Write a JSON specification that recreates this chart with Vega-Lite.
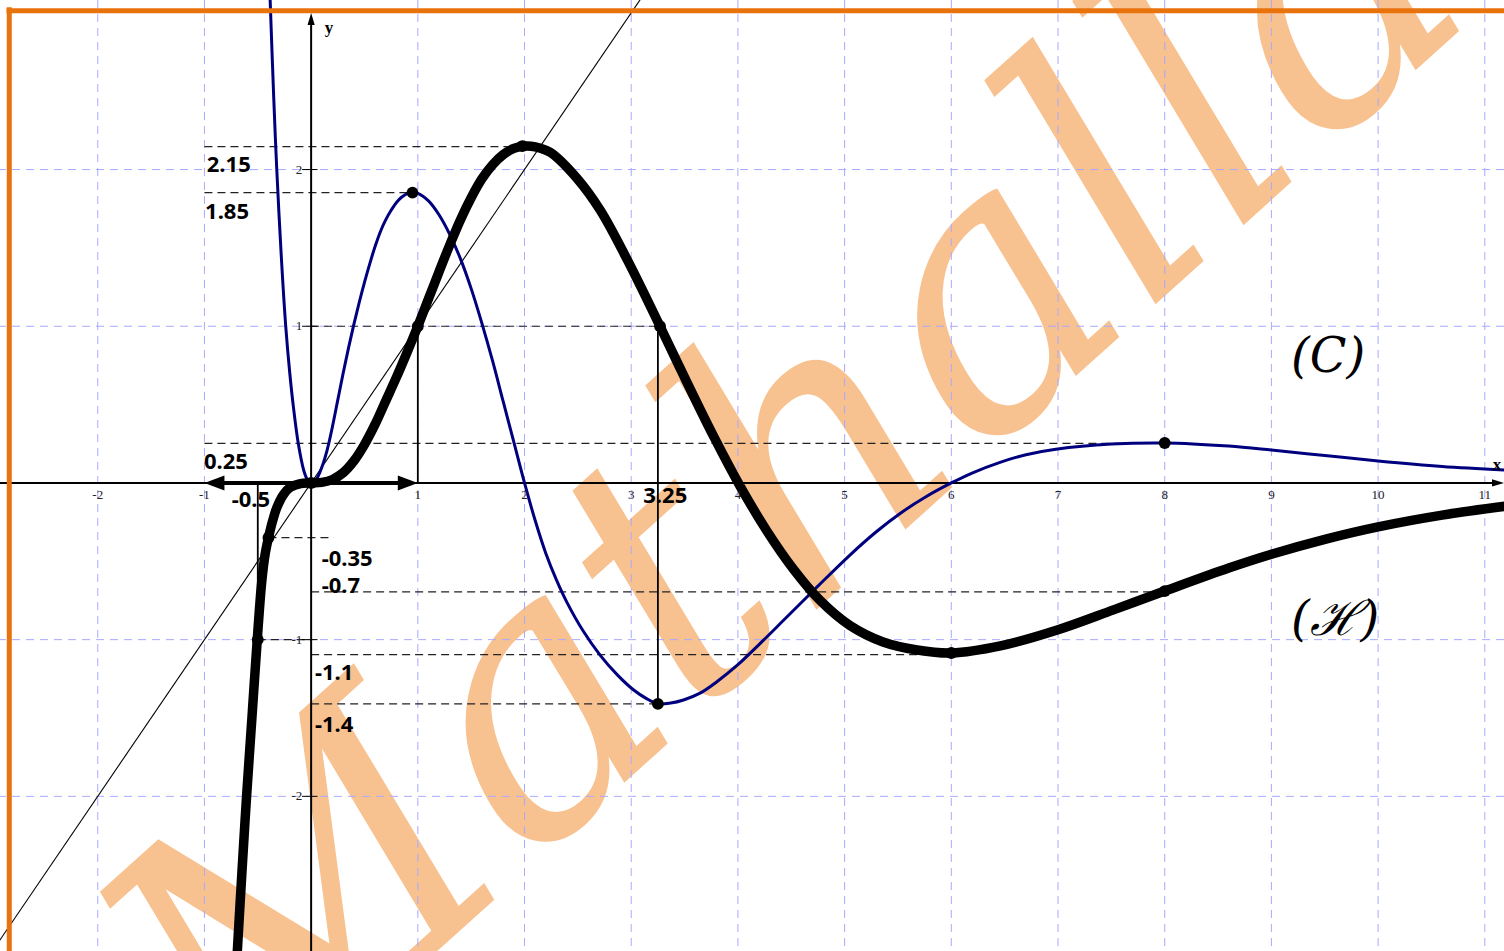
{
  "$schema": "https://vega.github.io/schema/vega-lite/v6.json",
  "width": 1504,
  "height": 951,
  "autosize": {"type": "none"},
  "padding": 0,
  "background": "white",
  "config": {"view": {"stroke": null}},
  "datasets": {
    "wm": [{"x": 4.5, "y": 0.0, "t": "Mathalla"}],
    "gridx": [{"x": -2}, {"x": -1}, {"x": 1}, {"x": 2}, {"x": 3}, {"x": 4}, {"x": 5}, {"x": 6}, {"x": 7}, {"x": 8}, {"x": 9}, {"x": 10}, {"x": 11}],
    "gridy": [{"y": -2}, {"y": -1}, {"y": 1}, {"y": 2}],
    "diag": [{"x": -2.92, "y": -2.92}, {"x": 3.1, "y": 3.1}],
    "dashed": [
      {"x": -1, "y": 2.146, "x2": 1.98, "y2": 2.146},
      {"x": -1, "y": 1.853, "x2": 0.95, "y2": 1.853},
      {"x": 0, "y": 1, "x2": 3.27, "y2": 1},
      {"x": -1, "y": 0.253, "x2": 8, "y2": 0.253},
      {"x": -0.4, "y": -0.349, "x2": 0.21, "y2": -0.349},
      {"x": 0, "y": -0.695, "x2": 8, "y2": -0.695},
      {"x": 0, "y": -1.095, "x2": 6, "y2": -1.095},
      {"x": 0, "y": -1.41, "x2": 3.25, "y2": -1.41},
      {"x": -0.5, "y": -1, "x2": 0, "y2": -1}
    ],
    "solid": [
      {"x": 1, "y": 0, "x2": 1, "y2": 1},
      {"x": 3.25, "y": 1, "x2": 3.25, "y2": -1.41},
      {"x": -0.5, "y": 0, "x2": -0.5, "y2": -1}
    ],
    "yticks": [
      {"x": -0.085, "y": 2, "x2": 0.06, "y2": 2},
      {"x": -0.085, "y": 1, "x2": 0.06, "y2": 1},
      {"x": -0.085, "y": -1, "x2": 0.06, "y2": -1},
      {"x": -0.085, "y": -2, "x2": 0.06, "y2": -2}
    ],
    "xaxis": [{"x": -2.916, "y": 0, "x2": 11.1, "y2": 0}],
    "yaxis": [{"x": 0, "y": -2.99, "x2": 0, "y2": 2.95}],
    "borderTop": [{"x": -2.855, "y": 3.013, "x2": 11.18, "y2": 3.013}],
    "borderLeft": [{"x": -2.829, "y": 3.035, "x2": -2.829, "y2": -2.99}],
    "C": [
      {"x": -0.385, "y": 3.1}, {"x": -0.35, "y": 2.45}, {"x": -0.322, "y": 2.0}, {"x": -0.28, "y": 1.45},
      {"x": -0.238, "y": 1.0}, {"x": -0.2, "y": 0.7}, {"x": -0.167, "y": 0.49}, {"x": -0.12, "y": 0.25},
      {"x": -0.067, "y": 0.075}, {"x": -0.03, "y": 0.015}, {"x": 0, "y": 0}, {"x": 0.05, "y": 0.025},
      {"x": 0.1, "y": 0.1}, {"x": 0.15, "y": 0.21}, {"x": 0.2, "y": 0.36}, {"x": 0.25, "y": 0.53},
      {"x": 0.3, "y": 0.7}, {"x": 0.35, "y": 0.86}, {"x": 0.4, "y": 1.01}, {"x": 0.45, "y": 1.15},
      {"x": 0.5, "y": 1.28}, {"x": 0.55, "y": 1.4}, {"x": 0.6, "y": 1.51}, {"x": 0.65, "y": 1.605},
      {"x": 0.7, "y": 1.68}, {"x": 0.75, "y": 1.74}, {"x": 0.8, "y": 1.79}, {"x": 0.85, "y": 1.825},
      {"x": 0.9, "y": 1.847}, {"x": 0.95, "y": 1.853}, {"x": 1.0, "y": 1.848}, {"x": 1.1, "y": 1.8},
      {"x": 1.2, "y": 1.71}, {"x": 1.3, "y": 1.585}, {"x": 1.4, "y": 1.43}, {"x": 1.5, "y": 1.24},
      {"x": 1.6, "y": 1.02}, {"x": 1.7, "y": 0.78}, {"x": 1.8, "y": 0.52}, {"x": 1.9, "y": 0.26},
      {"x": 2.0, "y": 0.0}, {"x": 2.1, "y": -0.24}, {"x": 2.2, "y": -0.45}, {"x": 2.3, "y": -0.62},
      {"x": 2.4, "y": -0.765}, {"x": 2.55, "y": -0.945}, {"x": 2.71, "y": -1.1}, {"x": 2.87, "y": -1.225},
      {"x": 3.02, "y": -1.32}, {"x": 3.14, "y": -1.375}, {"x": 3.25, "y": -1.41}, {"x": 3.37, "y": -1.405},
      {"x": 3.49, "y": -1.385}, {"x": 3.65, "y": -1.34}, {"x": 3.8, "y": -1.27}, {"x": 4.0, "y": -1.16},
      {"x": 4.2, "y": -1.03}, {"x": 4.43, "y": -0.875}, {"x": 4.74, "y": -0.665}, {"x": 5.05, "y": -0.46},
      {"x": 5.3, "y": -0.31}, {"x": 5.53, "y": -0.19}, {"x": 5.77, "y": -0.085}, {"x": 6.0, "y": 0.0},
      {"x": 6.2, "y": 0.065}, {"x": 6.45, "y": 0.13}, {"x": 6.7, "y": 0.18}, {"x": 6.98, "y": 0.215},
      {"x": 7.5, "y": 0.248}, {"x": 8.0, "y": 0.255}, {"x": 8.6, "y": 0.235}, {"x": 9.0, "y": 0.21},
      {"x": 9.5, "y": 0.175}, {"x": 10.0, "y": 0.14}, {"x": 10.6, "y": 0.105}, {"x": 11.2, "y": 0.082}
    ],
    "H": [
      {"x": -0.697, "y": -3.05}, {"x": -0.65, "y": -2.5}, {"x": -0.605, "y": -2.0}, {"x": -0.555, "y": -1.5},
      {"x": -0.505, "y": -1.0}, {"x": -0.463, "y": -0.63}, {"x": -0.43, "y": -0.45}, {"x": -0.4, "y": -0.35},
      {"x": -0.36, "y": -0.24}, {"x": -0.32, "y": -0.155}, {"x": -0.26, "y": -0.075}, {"x": -0.2, "y": -0.03},
      {"x": -0.1, "y": -0.004}, {"x": 0, "y": 0}, {"x": 0.1, "y": 0.004}, {"x": 0.2, "y": 0.022},
      {"x": 0.3, "y": 0.065}, {"x": 0.4, "y": 0.14}, {"x": 0.5, "y": 0.245}, {"x": 0.6, "y": 0.375},
      {"x": 0.7, "y": 0.525}, {"x": 0.8, "y": 0.675}, {"x": 0.9, "y": 0.835}, {"x": 1.0, "y": 1.0},
      {"x": 1.1, "y": 1.175}, {"x": 1.2, "y": 1.35}, {"x": 1.3, "y": 1.52}, {"x": 1.4, "y": 1.68},
      {"x": 1.5, "y": 1.82}, {"x": 1.6, "y": 1.94}, {"x": 1.7, "y": 2.03}, {"x": 1.8, "y": 2.095},
      {"x": 1.9, "y": 2.135}, {"x": 2.0, "y": 2.15}, {"x": 2.1, "y": 2.145}, {"x": 2.24, "y": 2.11},
      {"x": 2.49, "y": 1.945}, {"x": 2.71, "y": 1.74}, {"x": 2.96, "y": 1.428}, {"x": 3.27, "y": 1.0},
      {"x": 3.52, "y": 0.645}, {"x": 3.77, "y": 0.3}, {"x": 4.02, "y": -0.02}, {"x": 4.27, "y": -0.305},
      {"x": 4.52, "y": -0.55}, {"x": 4.77, "y": -0.75}, {"x": 5.05, "y": -0.91}, {"x": 5.36, "y": -1.015},
      {"x": 5.68, "y": -1.066}, {"x": 6.0, "y": -1.085}, {"x": 6.46, "y": -1.04}, {"x": 7.0, "y": -0.937},
      {"x": 7.52, "y": -0.81}, {"x": 8.0, "y": -0.69}, {"x": 8.6, "y": -0.543}, {"x": 9.0, "y": -0.455},
      {"x": 9.51, "y": -0.358}, {"x": 10.0, "y": -0.28}, {"x": 10.6, "y": -0.205}, {"x": 11.2, "y": -0.148}
    ],
    "dots": [
      {"x": 0.95, "y": 1.853}, {"x": 3.25, "y": -1.41}, {"x": 8, "y": 0.255}, {"x": 0, "y": 0},
      {"x": 1.98, "y": 2.15}, {"x": 1, "y": 1}, {"x": 3.27, "y": 1.0}, {"x": 6, "y": -1.085},
      {"x": 8, "y": -0.69}, {"x": -0.5, "y": -1.0}, {"x": -0.4, "y": -0.35}
    ],
    "arrR": [{"x": 0.906, "y": 0}],
    "arrL": [{"x": -0.906, "y": 0}],
    "shaft": [{"x": -0.85, "y": 0, "x2": 0.85, "y2": 0}],
    "axArrX": [{"x": 11.124, "y": 0}],
    "axArrY": [{"x": 0, "y": 2.961}],
    "xlab": [
      {"x": -2, "y": -0.077, "t": "-2"}, {"x": -1, "y": -0.077, "t": "-1"}, {"x": 1, "y": -0.077, "t": "1"},
      {"x": 2, "y": -0.077, "t": "2"}, {"x": 3, "y": -0.077, "t": "3"}, {"x": 4, "y": -0.077, "t": "4"},
      {"x": 5, "y": -0.077, "t": "5"}, {"x": 6, "y": -0.077, "t": "6"}, {"x": 7, "y": -0.077, "t": "7"},
      {"x": 8, "y": -0.077, "t": "8"}, {"x": 9, "y": -0.077, "t": "9"}, {"x": 10, "y": -0.077, "t": "10"},
      {"x": 11, "y": -0.077, "t": "11"}
    ],
    "ylab": [
      {"x": -0.083, "y": 2, "t": "2"}, {"x": -0.083, "y": 1, "t": "1"},
      {"x": -0.083, "y": -1, "t": "-1"}, {"x": -0.083, "y": -2, "t": "-2"}
    ],
    "vals": [
      {"x": -0.978, "y": 1.987, "t": "2.15"},
      {"x": -0.994, "y": 1.685, "t": "1.85"},
      {"x": -1.004, "y": 0.087, "t": "0.25"},
      {"x": -0.744, "y": -0.151, "t": "-0.5"},
      {"x": 3.113, "y": -0.13, "t": "3.25"},
      {"x": 0.099, "y": -0.528, "t": "-0.35"},
      {"x": 0.099, "y": -0.704, "t": "-0.7"},
      {"x": 0.036, "y": -1.257, "t": "-1.1"},
      {"x": 0.036, "y": -1.587, "t": "-1.4"}
    ],
    "curvelab": [
      {"x": 9.531, "y": 0.71, "t": "(C)"},
      {"x": 9.597, "y": -0.97, "t": "(ℋ)"}
    ],
    "axname": [
      {"x": 0.168, "y": 2.904, "t": "y"},
      {"x": 11.115, "y": 0.115, "t": "x"}
    ]
  },
  "layer": [
    {
      "data": {"name": "wm"},
      "mark": {"type": "text", "angle": -42, "fontSize": 370, "font": "DejaVu Serif", "fontStyle": "italic", "color": "#F8C190", "align": "center", "baseline": "middle", "clip": true},
      "encoding": {
        "x": {"field": "x", "type": "quantitative", "scale": {"domain": [-2.916, 11.18], "nice": false, "zero": false}, "axis": null},
        "y": {"field": "y", "type": "quantitative", "scale": {"domain": [-2.987, 3.082], "nice": false, "zero": false}, "axis": null},
        "text": {"field": "t"}
      }
    },
    {
      "data": {"name": "gridx"},
      "mark": {"type": "rule", "color": "#A9A9FF", "strokeWidth": 1, "strokeDash": [8, 6]},
      "encoding": {
        "x": {"field": "x", "type": "quantitative", "scale": {"domain": [-2.916, 11.18], "nice": false, "zero": false}, "axis": null}
      }
    },
    {
      "data": {"name": "gridy"},
      "mark": {"type": "rule", "color": "#A9A9FF", "strokeWidth": 1, "strokeDash": [8, 6]},
      "encoding": {
        "y": {"field": "y", "type": "quantitative", "scale": {"domain": [-2.987, 3.082], "nice": false, "zero": false}, "axis": null}
      }
    },
    {
      "data": {"name": "diag"},
      "mark": {"type": "line", "color": "#000000", "strokeWidth": 1.1, "clip": true},
      "encoding": {
        "x": {"field": "x", "type": "quantitative", "scale": {"domain": [-2.916, 11.18], "nice": false, "zero": false}, "axis": null},
        "y": {"field": "y", "type": "quantitative", "scale": {"domain": [-2.987, 3.082], "nice": false, "zero": false}, "axis": null}
      }
    },
    {
      "data": {"name": "dashed"},
      "mark": {"type": "rule", "color": "#222222", "strokeWidth": 1.2, "strokeDash": [8, 5]},
      "encoding": {
        "x": {"field": "x", "type": "quantitative", "scale": {"domain": [-2.916, 11.18], "nice": false, "zero": false}, "axis": null},
        "y": {"field": "y", "type": "quantitative", "scale": {"domain": [-2.987, 3.082], "nice": false, "zero": false}, "axis": null},
        "x2": {"field": "x2"},
        "y2": {"field": "y2"}
      }
    },
    {
      "data": {"name": "solid"},
      "mark": {"type": "rule", "color": "#000000", "strokeWidth": 1.8},
      "encoding": {
        "x": {"field": "x", "type": "quantitative", "scale": {"domain": [-2.916, 11.18], "nice": false, "zero": false}, "axis": null},
        "y": {"field": "y", "type": "quantitative", "scale": {"domain": [-2.987, 3.082], "nice": false, "zero": false}, "axis": null},
        "x2": {"field": "x2"},
        "y2": {"field": "y2"}
      }
    },
    {
      "data": {"name": "yticks"},
      "mark": {"type": "rule", "color": "#000000", "strokeWidth": 1},
      "encoding": {
        "x": {"field": "x", "type": "quantitative", "scale": {"domain": [-2.916, 11.18], "nice": false, "zero": false}, "axis": null},
        "y": {"field": "y", "type": "quantitative", "scale": {"domain": [-2.987, 3.082], "nice": false, "zero": false}, "axis": null},
        "x2": {"field": "x2"},
        "y2": {"field": "y2"}
      }
    },
    {
      "data": {"name": "xaxis"},
      "mark": {"type": "rule", "color": "#000000", "strokeWidth": 2},
      "encoding": {
        "x": {"field": "x", "type": "quantitative", "scale": {"domain": [-2.916, 11.18], "nice": false, "zero": false}, "axis": null},
        "y": {"field": "y", "type": "quantitative", "scale": {"domain": [-2.987, 3.082], "nice": false, "zero": false}, "axis": null},
        "x2": {"field": "x2"},
        "y2": {"field": "y2"}
      }
    },
    {
      "data": {"name": "yaxis"},
      "mark": {"type": "rule", "color": "#000000", "strokeWidth": 2},
      "encoding": {
        "x": {"field": "x", "type": "quantitative", "scale": {"domain": [-2.916, 11.18], "nice": false, "zero": false}, "axis": null},
        "y": {"field": "y", "type": "quantitative", "scale": {"domain": [-2.987, 3.082], "nice": false, "zero": false}, "axis": null},
        "x2": {"field": "x2"},
        "y2": {"field": "y2"}
      }
    },
    {
      "data": {"name": "axArrX"},
      "mark": {"type": "point", "shape": "M-1,-0.6L1,0L-1,0.6Z", "size": 144, "filled": true, "color": "#000000", "opacity": 1},
      "encoding": {
        "x": {"field": "x", "type": "quantitative", "scale": {"domain": [-2.916, 11.18], "nice": false, "zero": false}, "axis": null},
        "y": {"field": "y", "type": "quantitative", "scale": {"domain": [-2.987, 3.082], "nice": false, "zero": false}, "axis": null}
      }
    },
    {
      "data": {"name": "axArrY"},
      "mark": {"type": "point", "shape": "M-0.6,1L0,-1L0.6,1Z", "size": 144, "filled": true, "color": "#000000", "opacity": 1},
      "encoding": {
        "x": {"field": "x", "type": "quantitative", "scale": {"domain": [-2.916, 11.18], "nice": false, "zero": false}, "axis": null},
        "y": {"field": "y", "type": "quantitative", "scale": {"domain": [-2.987, 3.082], "nice": false, "zero": false}, "axis": null}
      }
    },
    {
      "data": {"name": "C"},
      "mark": {"type": "line", "color": "#00007F", "strokeWidth": 3, "interpolate": "catmull-rom", "clip": true},
      "encoding": {
        "x": {"field": "x", "type": "quantitative", "scale": {"domain": [-2.916, 11.18], "nice": false, "zero": false}, "axis": null},
        "y": {"field": "y", "type": "quantitative", "scale": {"domain": [-2.987, 3.082], "nice": false, "zero": false}, "axis": null}
      }
    },
    {
      "data": {"name": "H"},
      "mark": {"type": "line", "color": "#000000", "strokeWidth": 9.5, "interpolate": "catmull-rom", "clip": true},
      "encoding": {
        "x": {"field": "x", "type": "quantitative", "scale": {"domain": [-2.916, 11.18], "nice": false, "zero": false}, "axis": null},
        "y": {"field": "y", "type": "quantitative", "scale": {"domain": [-2.987, 3.082], "nice": false, "zero": false}, "axis": null}
      }
    },
    {
      "data": {"name": "shaft"},
      "mark": {"type": "rule", "color": "#000000", "strokeWidth": 4},
      "encoding": {
        "x": {"field": "x", "type": "quantitative", "scale": {"domain": [-2.916, 11.18], "nice": false, "zero": false}, "axis": null},
        "y": {"field": "y", "type": "quantitative", "scale": {"domain": [-2.987, 3.082], "nice": false, "zero": false}, "axis": null},
        "x2": {"field": "x2"},
        "y2": {"field": "y2"}
      }
    },
    {
      "data": {"name": "arrR"},
      "mark": {"type": "point", "shape": "M-1,-0.75L1,0L-1,0.75Z", "size": 400, "filled": true, "color": "#000000", "opacity": 1},
      "encoding": {
        "x": {"field": "x", "type": "quantitative", "scale": {"domain": [-2.916, 11.18], "nice": false, "zero": false}, "axis": null},
        "y": {"field": "y", "type": "quantitative", "scale": {"domain": [-2.987, 3.082], "nice": false, "zero": false}, "axis": null}
      }
    },
    {
      "data": {"name": "arrL"},
      "mark": {"type": "point", "shape": "M1,-0.75L-1,0L1,0.75Z", "size": 400, "filled": true, "color": "#000000", "opacity": 1},
      "encoding": {
        "x": {"field": "x", "type": "quantitative", "scale": {"domain": [-2.916, 11.18], "nice": false, "zero": false}, "axis": null},
        "y": {"field": "y", "type": "quantitative", "scale": {"domain": [-2.987, 3.082], "nice": false, "zero": false}, "axis": null}
      }
    },
    {
      "data": {"name": "dots"},
      "mark": {"type": "point", "shape": "circle", "size": 140, "filled": true, "color": "#000000", "opacity": 1},
      "encoding": {
        "x": {"field": "x", "type": "quantitative", "scale": {"domain": [-2.916, 11.18], "nice": false, "zero": false}, "axis": null},
        "y": {"field": "y", "type": "quantitative", "scale": {"domain": [-2.987, 3.082], "nice": false, "zero": false}, "axis": null}
      }
    },
    {
      "data": {"name": "borderTop"},
      "mark": {"type": "rule", "color": "#E8720C", "strokeWidth": 5},
      "encoding": {
        "x": {"field": "x", "type": "quantitative", "scale": {"domain": [-2.916, 11.18], "nice": false, "zero": false}, "axis": null},
        "y": {"field": "y", "type": "quantitative", "scale": {"domain": [-2.987, 3.082], "nice": false, "zero": false}, "axis": null},
        "x2": {"field": "x2"},
        "y2": {"field": "y2"}
      }
    },
    {
      "data": {"name": "borderLeft"},
      "mark": {"type": "rule", "color": "#E8720C", "strokeWidth": 5},
      "encoding": {
        "x": {"field": "x", "type": "quantitative", "scale": {"domain": [-2.916, 11.18], "nice": false, "zero": false}, "axis": null},
        "y": {"field": "y", "type": "quantitative", "scale": {"domain": [-2.987, 3.082], "nice": false, "zero": false}, "axis": null},
        "x2": {"field": "x2"},
        "y2": {"field": "y2"}
      }
    },
    {
      "data": {"name": "xlab"},
      "mark": {"type": "text", "font": "Liberation Serif", "fontSize": 13, "color": "#222222", "align": "center", "baseline": "middle"},
      "encoding": {
        "x": {"field": "x", "type": "quantitative", "scale": {"domain": [-2.916, 11.18], "nice": false, "zero": false}, "axis": null},
        "y": {"field": "y", "type": "quantitative", "scale": {"domain": [-2.987, 3.082], "nice": false, "zero": false}, "axis": null},
        "text": {"field": "t"}
      }
    },
    {
      "data": {"name": "ylab"},
      "mark": {"type": "text", "font": "Liberation Serif", "fontSize": 13, "color": "#222222", "align": "right", "baseline": "middle"},
      "encoding": {
        "x": {"field": "x", "type": "quantitative", "scale": {"domain": [-2.916, 11.18], "nice": false, "zero": false}, "axis": null},
        "y": {"field": "y", "type": "quantitative", "scale": {"domain": [-2.987, 3.082], "nice": false, "zero": false}, "axis": null},
        "text": {"field": "t"}
      }
    },
    {
      "data": {"name": "vals"},
      "mark": {"type": "text", "font": "Noto Sans", "fontWeight": "bold", "fontSize": 22, "color": "#000000", "align": "left", "baseline": "alphabetic"},
      "encoding": {
        "x": {"field": "x", "type": "quantitative", "scale": {"domain": [-2.916, 11.18], "nice": false, "zero": false}, "axis": null},
        "y": {"field": "y", "type": "quantitative", "scale": {"domain": [-2.987, 3.082], "nice": false, "zero": false}, "axis": null},
        "text": {"field": "t"}
      }
    },
    {
      "data": {"name": "curvelab"},
      "mark": {"type": "text", "font": "DejaVu Serif", "fontStyle": "italic", "fontSize": 48, "color": "#000000", "align": "center", "baseline": "alphabetic"},
      "encoding": {
        "x": {"field": "x", "type": "quantitative", "scale": {"domain": [-2.916, 11.18], "nice": false, "zero": false}, "axis": null},
        "y": {"field": "y", "type": "quantitative", "scale": {"domain": [-2.987, 3.082], "nice": false, "zero": false}, "axis": null},
        "text": {"field": "t"}
      }
    },
    {
      "data": {"name": "axname"},
      "mark": {"type": "text", "font": "Liberation Serif", "fontWeight": "bold", "fontSize": 17, "color": "#000000", "align": "center", "baseline": "middle"},
      "encoding": {
        "x": {"field": "x", "type": "quantitative", "scale": {"domain": [-2.916, 11.18], "nice": false, "zero": false}, "axis": null},
        "y": {"field": "y", "type": "quantitative", "scale": {"domain": [-2.987, 3.082], "nice": false, "zero": false}, "axis": null},
        "text": {"field": "t"}
      }
    }
  ]
}
